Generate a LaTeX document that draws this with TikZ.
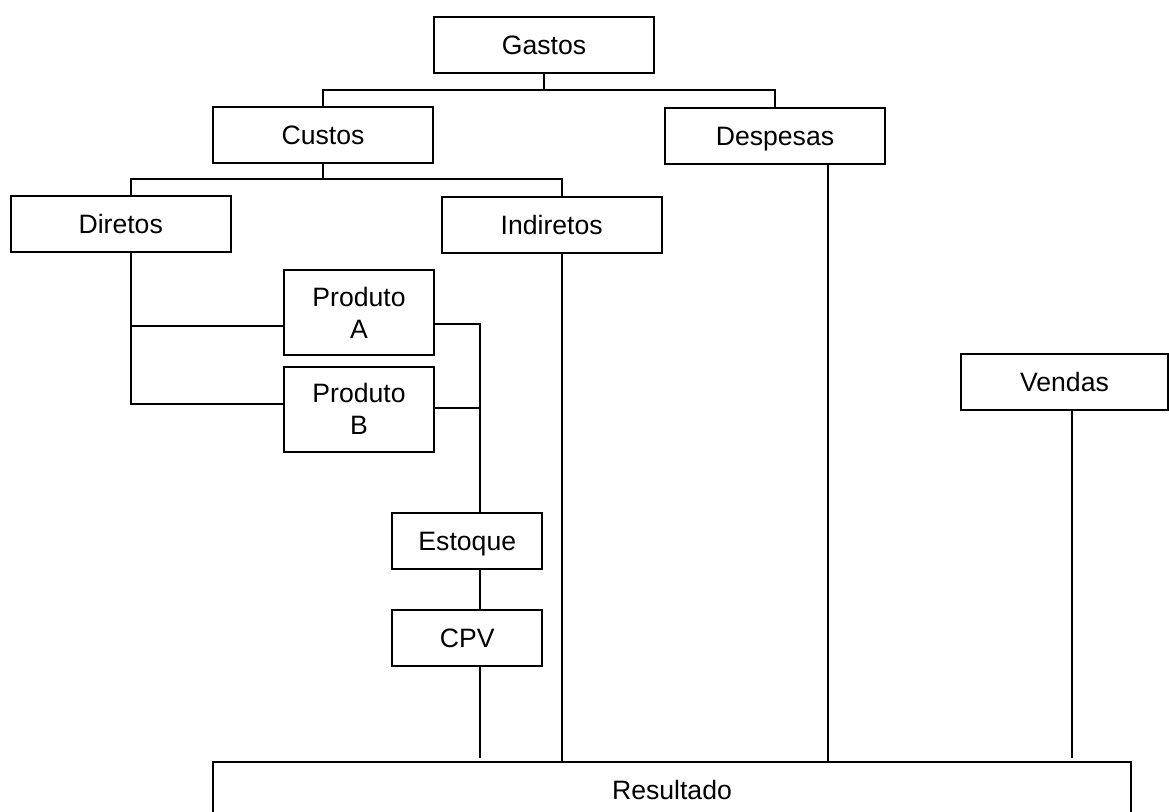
\documentclass[tikz,border=0pt]{standalone}
\usepackage{fontspec}
\setmainfont{Liberation Sans}
\begin{document}
\begin{tikzpicture}[x=0.5pt,y=-0.5pt,
  box/.style={draw, line width=1pt, inner sep=0pt, minimum height=28pt,
              font=\fontsize{13.3}{16}\selectfont},
  single/.style={text height=9.5pt, text depth=0pt},
  wide/.style={minimum width=110pt},
  narrow/.style={minimum width=75pt},
  twoline/.style={minimum height=42.5pt, align=center},
  link/.style={line width=1pt}]
\useasboundingbox (0,0) rectangle (1169,811);
\clip (0,0) rectangle (1169,811);

% boxes
\node[box,wide,single] (gastos)    at (544,45)     {Gastos};
\node[box,wide,single] (custos)    at (323,134.5)  {Custos};
\node[box,wide,single] (despesas)  at (775,136)    {Despesas};
\node[box,wide,single] (diretos)   at (120.7,223.5) {Diretos};
\node[box,wide,single] (indiretos) at (551.7,224.7) {Indiretos};
\node[box,narrow,twoline] (pa)     at (359,312.5)  {Produto\\A};
\node[box,narrow,twoline] (pb)     at (359,409.2)  {Produto\\B};
\node[box,narrow,single] (estoque) at (467.3,541.3) {Estoque};
\node[box,narrow,single] (cpv)     at (467.3,637.5) {CPV};
\node[box,single,minimum width=103.5pt] (vendas) at (1064.5,382) {Vendas};
\node[box,single,minimum width=459pt] (resultado) at (672,789.5) {Resultado};

% Gastos -> Custos / Despesas
\coordinate (gbar) at ([yshift=-8.2pt]gastos.south);
\draw[link] (gastos.south) -- (gbar);
\draw[link] (custos.north) |- (gbar) -| (despesas.north);

% Custos -> Diretos / Indiretos
\coordinate (cbar) at ([yshift=-7.9pt]custos.south);
\coordinate (dirin) at ([xshift=5pt]diretos.north);
\coordinate (indin) at ([xshift=5pt]indiretos.north);
\draw[link] (custos.south) -- (cbar);
\draw[link] (dirin) |- (cbar) -| (indin);

% Diretos -> Produto A / Produto B
\coordinate (dstem) at ([xshift=5pt]diretos.south);
\coordinate (pain) at ([yshift=-6.75pt]pa.west);
\coordinate (pbin) at ([yshift=2.45pt]pb.west);
\draw[link] (dstem) |- (pbin);
\draw[link] (pain -| dstem) -- (pain);

% Produtos -> Estoque -> CPV -> Resultado
\coordinate (estin) at ([xshift=6.35pt]estoque.north);
\coordinate (paout) at ([yshift=-5.75pt]pa.east);
\coordinate (pbout) at ([yshift=0.45pt]pb.east);
\draw[link] (paout) -| (estin);
\draw[link] (pbout) -- (pbout -| estin);
\draw[link] ([xshift=6.35pt]estoque.south) -- ([xshift=6.35pt]cpv.north);
\coordinate (cpvout) at ([xshift=6.35pt]cpv.south);
\draw[link,shorten >=1.5pt] (cpvout) -- (cpvout |- resultado.north);

% Indiretos, Despesas, Vendas -> Resultado
\coordinate (indout) at ([xshift=5pt]indiretos.south);
\draw[link] (indout) -- (indout |- resultado.north);
\coordinate (despout) at ([xshift=26.25pt]despesas.south);
\draw[link] (despout) -- (despout |- resultado.north);
\coordinate (vendout) at ([xshift=3.75pt]vendas.south);
\draw[link,shorten >=1.5pt] (vendout) -- (vendout |- resultado.north);
\end{tikzpicture}
\end{document}
